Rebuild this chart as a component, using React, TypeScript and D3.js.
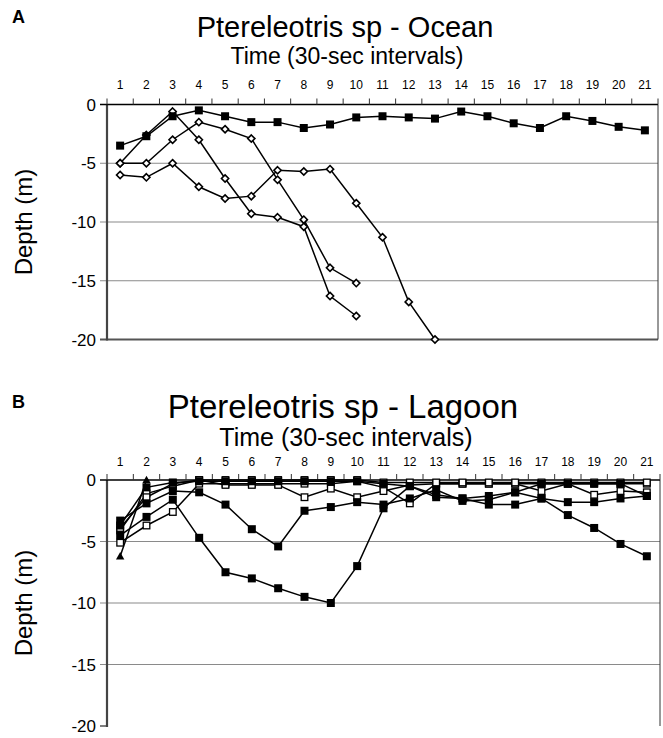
import React from 'react';
import * as d3 from 'd3';

const timeSteps = [1, 2, 3, 4, 5, 6, 7, 8, 9, 10, 11, 12, 13, 14, 15, 16, 17, 18, 19, 20, 21];
const depthTicks = [0, -5, -10, -15, -20];

// Panel A – Ocean
const oceanSquares = [-3.5, -2.7, -1.0, -0.5, -1.0, -1.5, -1.5, -2.0, -1.7, -1.1, -1.0, -1.1, -1.2, -0.6, -1.0, -1.6, -2.0, -1.0, -1.4, -1.9, -2.2];
const oceanDiamondA = [-5.0, -2.6, -0.6, -3.0, -6.3, -9.3, -9.6, -10.4, -16.3, -18.0];
const oceanDiamondB = [-5.0, -5.0, -3.0, -1.5, -2.1, -2.9, -6.4, -9.8, -13.9, -15.2];
const oceanDiamondC = [-6.0, -6.2, -5.0, -7.0, -8.0, -7.8, -5.6, -5.7, -5.5, -8.4, -11.3, -16.8, -20.0];

// Panel B – Lagoon
const lagoonDeep = [-4.5, -3.0, -1.6, -4.7, -7.5, -8.0, -8.8, -9.5, -10.0, -7.0, -2.3, -0.5, -1.2, -1.5, -2.0, -2.0, -1.5, -1.8, -1.8, -1.5, -1.3];
const lagoonMid = [-3.3, -1.9, -0.9, -1.0, -2.0, -4.0, -5.4, -2.5, -2.2, -1.8, -2.0, -1.5, -0.8, -1.7, -1.6, -1.0, -1.5, -2.85, -3.9, -5.2, -6.2];
const lagoonShallow = [-3.7, -0.6, -0.2, -0.1, -0.1, -0.1, -0.1, -0.1, -0.1, -0.1, -0.3, -0.5, -1.4, -1.5, -1.3, -1.0, -0.3, -0.3, -0.3, -0.3, -1.3];
const lagoonOpenA = [-5.1, -3.7, -2.6, -0.3, -0.3, -0.3, -0.3, -0.3, -0.3, -0.1, -0.6, -1.9, -0.3, -0.3, -0.3, -0.3, -0.9, -0.3, -1.2, -0.9, -1.0];
const lagoonOpenB = [-4.1, -1.1, -0.5, 0, -0.4, -0.4, -0.4, -1.4, -0.7, -1.4, -0.9, -0.4, -0.3, -0.3, -0.3, -0.3, -0.3, -0.3, -0.3, -0.3, -0.3];
const lagoonOpenC = [-3.9, -1.4, -0.3, 0, 0, 0, 0, 0, 0, 0, -0.2, -0.2, -0.2, -0.2, -0.2, -0.2, -0.2, -0.2, -0.2, -0.2, -0.2];
const lagoonTriangle = [-6.2, 0];

type Marker = 'square' | 'open' | 'diamond' | 'triangle';
interface Series { values: number[]; marker: Marker; }

const FONT = '"Liberation Sans", Arial, sans-serif';

interface PanelProps {
  letter: string;
  title: string;
  letterY: number;
  titleY: number;
  titleSize: number;
  titleX: number;
  timeY: number;
  timeSize: number;
  timeX: number;
  tickY: number;
  top: number;
  bottom: number;
  series: Series[];
  rightX: number;
  bottomLine: boolean;
}

function MarkerShape({ kind, cx, cy }: { kind: Marker; cx: number; cy: number }) {
  if (kind === 'square') {
    return <rect x={cx - 4} y={cy - 4} width={8} height={8} fill="#000" />;
  }
  if (kind === 'open') {
    return <rect x={cx - 3.3} y={cy - 3.3} width={6.6} height={6.6} fill="#fff" stroke="#000" strokeWidth={1.3} />;
  }
  if (kind === 'diamond') {
    const r = 3.6;
    return (
      <path d={`M${cx},${cy - r}L${cx + r},${cy}L${cx},${cy + r}L${cx - r},${cy}Z`} fill="#fff" stroke="#000" strokeWidth={1.6} />
    );
  }
  const s = 4.2;
  return <path d={`M${cx},${cy - s}L${cx + s},${cy + s * 0.8}L${cx - s},${cy + s * 0.8}Z`} fill="#000" />;
}

function Panel(p: PanelProps) {
  const x = d3.scaleBand<number>().domain(timeSteps).range([107, p.rightX]).paddingInner(0).paddingOuter(0);
  const y = d3.scaleLinear().domain([-20, 0]).range([p.bottom, p.top]);
  const cx = (t: number) => (x(t) as number) + x.bandwidth() / 2;
  const line = d3.line<number>().x((_, i) => cx(timeSteps[i])).y((v) => y(v));
  const boundaries = timeSteps.map((t) => x(t) as number).concat([p.rightX]);
  return (
    <g>
      <text x={12} y={p.letterY} fontFamily={FONT} fontWeight="bold" fontSize={18}>{p.letter}</text>
      <text x={p.titleX} y={p.titleY} fontFamily={FONT} fontSize={p.titleSize} textAnchor="middle">{p.title}</text>
      <text x={p.timeX} y={p.timeY} fontFamily={FONT} fontSize={p.timeSize} textAnchor="middle">Time (30-sec intervals)</text>
      {timeSteps.map((t) => (
        <text key={t} x={cx(t)} y={p.tickY} fontFamily={FONT} fontSize={12} textAnchor="middle">{t}</text>
      ))}
      {depthTicks.filter((d) => d !== 0 && d !== -20).map((d) => (
        <line key={d} x1={100} x2={p.rightX} y1={y(d)} y2={y(d)} stroke="#8a8a8a" strokeWidth={1.2} />
      ))}
      {p.bottomLine && (
        <line x1={100} x2={p.rightX} y1={y(-20)} y2={y(-20)} stroke="#555" strokeWidth={2} />
      )}
      {!p.bottomLine && (
        <line x1={100} x2={107} y1={y(-20)} y2={y(-20)} stroke="#555" strokeWidth={1.5} />
      )}
      <line x1={p.rightX} x2={p.rightX} y1={y(0)} y2={y(-20)} stroke="#333" strokeWidth={1} />
      <line x1={107} x2={107} y1={y(0)} y2={y(-20) + 1} stroke="#444" strokeWidth={2.2} />
      <line x1={100} x2={p.rightX} y1={y(0)} y2={y(0)} stroke="#000" strokeWidth={1.5} />
      {boundaries.map((bx, i) => (
        <line key={i} x1={bx} x2={bx} y1={y(0)} y2={y(0) - 6} stroke="#333" strokeWidth={1} />
      ))}
      {depthTicks.map((d) => (
        <text key={d} x={96} y={y(d)} dy="0.36em" fontFamily={FONT} fontSize={17} textAnchor="end">{d}</text>
      ))}
      <text
        transform={`translate(32,${(p.top + p.bottom) / 2}) rotate(-90)`}
        fontFamily={FONT}
        fontSize={24}
        textAnchor="middle"
      >
        Depth (m)
      </text>
      {p.series.map((s, si) => (
        <path key={`l${si}`} d={line(s.values) as string} fill="none" stroke="#000" strokeWidth={1.5} />
      ))}
      {p.series.map((s, si) => (
        <g key={`m${si}`}>
          {s.values.map((v, i) => (
            <MarkerShape key={i} kind={s.marker} cx={cx(timeSteps[i])} cy={y(v)} />
          ))}
        </g>
      ))}
    </g>
  );
}

export default function App() {
  const oceanSeries: Series[] = [
    { values: oceanDiamondC, marker: 'diamond' },
    { values: oceanDiamondB, marker: 'diamond' },
    { values: oceanDiamondA, marker: 'diamond' },
    { values: oceanSquares, marker: 'square' },
  ];
  const lagoonSeries: Series[] = [
    { values: lagoonOpenA, marker: 'open' },
    { values: lagoonOpenB, marker: 'open' },
    { values: lagoonOpenC, marker: 'open' },
    { values: lagoonShallow, marker: 'square' },
    { values: lagoonMid, marker: 'square' },
    { values: lagoonDeep, marker: 'square' },
    { values: lagoonTriangle, marker: 'triangle' },
  ];
  return (
    <svg width={663} height={738} style={{ position: 'absolute', left: 0, top: 0, background: '#fff' }}>
      <rect width={663} height={738} fill="#fff" />
      <Panel
        letter="A"
        title="Ptereleotris sp - Ocean"
        letterY={23}
        titleY={37}
        titleSize={29}
        titleX={345}
        timeY={64}
        timeSize={23}
        timeX={347}
        tickY={89}
        top={104.5}
        bottom={339.5}
        series={oceanSeries}
        rightX={658}
        bottomLine={true}
      />
      <Panel
        letter="B"
        title="Ptereleotris sp - Lagoon"
        letterY={408}
        titleY={418}
        titleSize={33}
        titleX={343}
        timeY={446}
        timeSize={25}
        timeX={346}
        tickY={466}
        top={480}
        bottom={726}
        series={lagoonSeries}
        rightX={660}
        bottomLine={false}
      />
    </svg>
  );
}
